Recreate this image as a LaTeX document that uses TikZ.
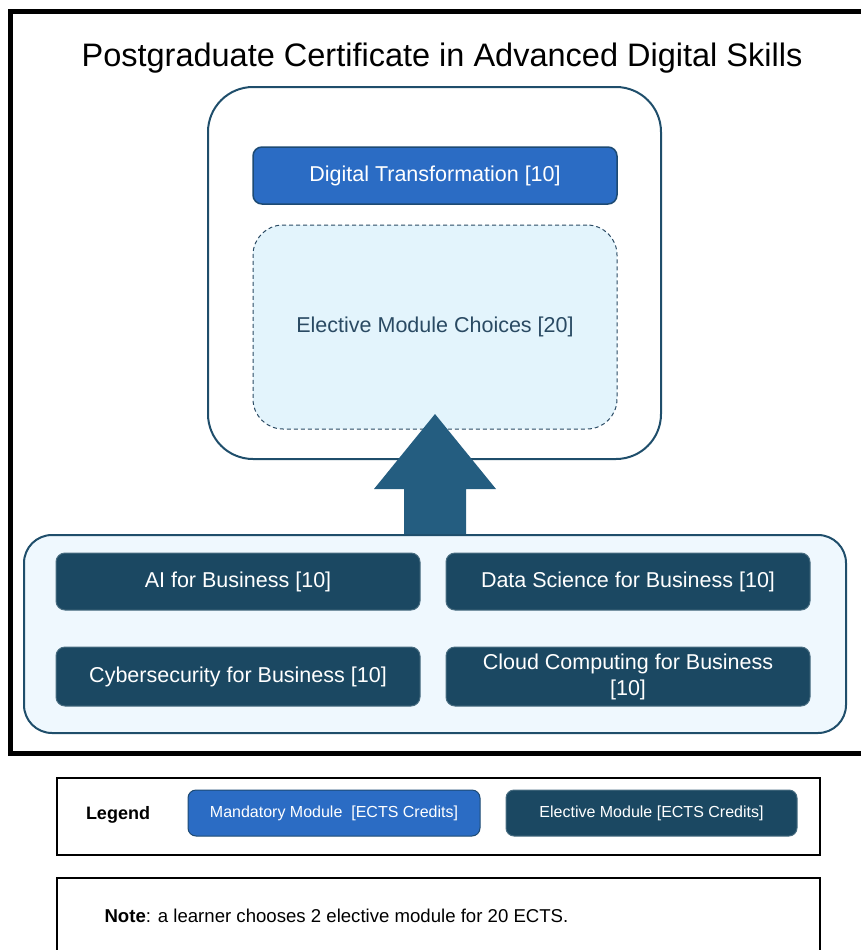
\documentclass[tikz,border=0pt]{standalone}
\usepackage{fontspec}
\setmainfont{Liberation Sans}
\definecolor{mandblue}{HTML}{2B6CC4}
\definecolor{mandedge}{HTML}{1D4A73}
\definecolor{electdark}{HTML}{1B4862}
\definecolor{arrowcol}{HTML}{245D80}
\definecolor{frameteal}{HTML}{1F4E6B}
\definecolor{choicefill}{HTML}{E3F4FC}
\definecolor{choiceedge}{HTML}{2A4A63}
\definecolor{contfill}{HTML}{EFF8FE}
\tikzset{
  modbox/.style={rounded corners=9pt, inner sep=0pt, align=center, text=white,
     font=\fontsize{21.5}{26}\selectfont},
  mandmod/.style={modbox, fill=mandblue, draw=mandedge, line width=1.5pt},
  electmod/.style={modbox, fill=electdark, draw=electdark!80!white, line width=1pt},
  legbox/.style={draw=black, line width=2pt, inner sep=0pt},
}
\begin{document}
\begin{tikzpicture}[x=1pt,y=-1pt]
\useasboundingbox (0,0) rectangle (860,950);
% outer frame
\draw[line width=5pt] (10,12) rectangle (875,753);
\node[font=\fontsize{32.5}{38}\selectfont] (title) at (442,58) {Postgraduate Certificate in Advanced Digital Skills};
% top container
\node[draw=frameteal, line width=2pt, rounded corners=45pt, minimum width=453pt, minimum height=372pt] (top) at (434.5,273) {};
\node[mandmod, minimum width=364pt, minimum height=57pt] (dt) at (435,175.5) {Digital Transformation [10]};
\node[draw=choiceedge, fill=choicefill, dash pattern=on 4pt off 3pt, line width=1pt, rounded corners=30pt, minimum width=364pt, minimum height=204pt,
      text=choiceedge, font=\fontsize{21.5}{26}\selectfont] (choices) at (435,327) {Elective Module Choices [20]};
% bottom container
\node[draw=frameteal, fill=contfill, line width=2pt, rounded corners=28pt, minimum width=822pt, minimum height=198pt] (bottom) at (435,634) {};
\node[electmod, minimum width=364pt, minimum height=57pt] (ai) at (238,581.5) {AI for Business [10]};
\node[electmod, minimum width=364pt, minimum height=57pt] (ds) at (628,581.5) {Data Science for Business [10]};
\node[electmod, minimum width=364pt, minimum height=59pt] (cy) at (238,676.5) {Cybersecurity for Business [10]};
\node[electmod, minimum width=364pt, minimum height=59pt] (cc) at (628,676.5) {Cloud Computing for Business\\{}[10]};
% block arrow from bottom container to choices
\coordinate (abase) at (bottom.north);
\fill[arrowcol] ([xshift=-31pt]abase) -- ([xshift=-31pt,yshift=45pt]abase) -- ([xshift=-61pt,yshift=45pt]abase)
   -- ([yshift=120pt]abase) -- ([xshift=61pt,yshift=45pt]abase) -- ([xshift=31pt,yshift=45pt]abase)
   -- ([xshift=31pt]abase) -- cycle;
% legend
\node[legbox, minimum width=763pt, minimum height=77pt] (legend) at (438.5,816.5) {};
\node[font=\fontsize{18}{22}\selectfont\bfseries] (legtitle) at (118,815) {Legend};
\node[mandmod, rounded corners=8pt, line width=1pt, minimum width=292pt, minimum height=46pt, font=\fontsize{16}{20}\selectfont] (legmand) at (334,813) {Mandatory Module\ \ [ECTS Credits]};
\node[electmod, rounded corners=8pt, minimum width=291pt, minimum height=46pt, font=\fontsize{16}{20}\selectfont] (legelect) at (651.5,813) {Elective Module [ECTS Credits]};
% note
\draw[line width=2pt] (57,965) -- (57,878) -- (820,878) -- (820,965);
\node[anchor=west, font=\fontsize{18.6}{22}\selectfont] (note) at (101,916) {\textbf{Note}: a learner chooses 2 elective module for 20 ECTS.};
\end{tikzpicture}
\end{document}
